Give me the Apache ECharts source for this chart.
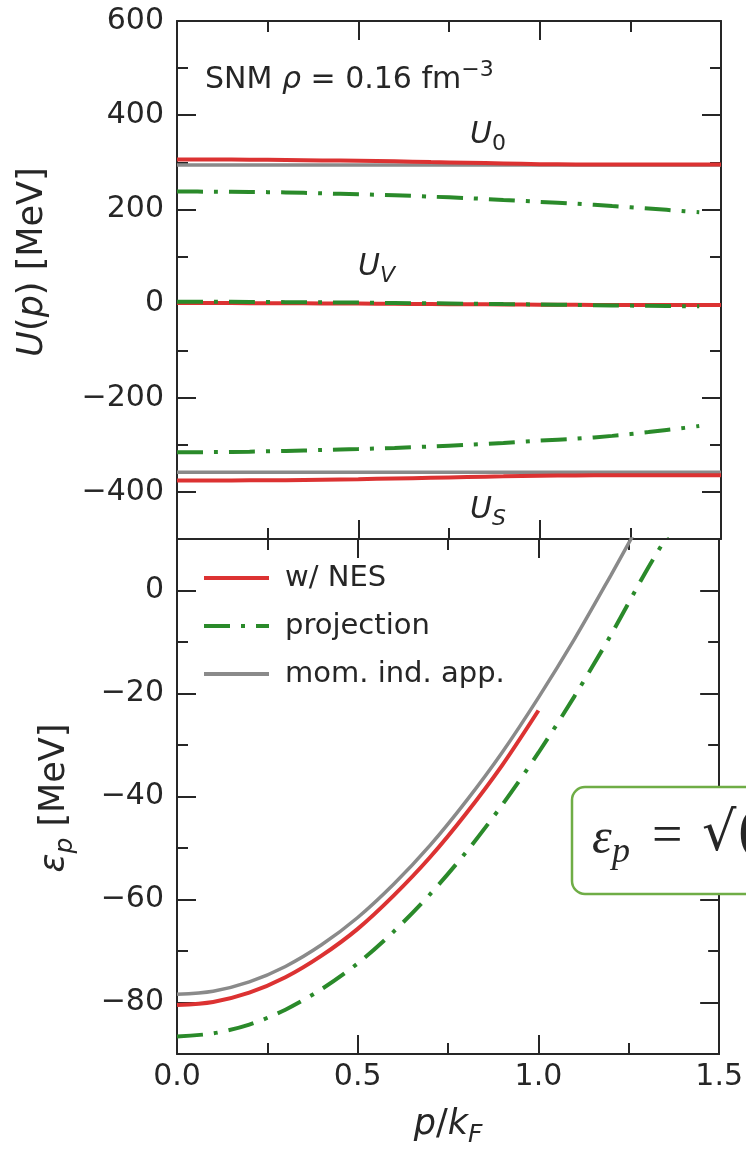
<!DOCTYPE html>
<html>
<head>
<meta charset="utf-8">
<script src="https://cdn.jsdelivr.net/npm/echarts@6/dist/echarts.min.js"></script>
<style>
  html, body { margin: 0; padding: 0; background: #ffffff; }
  #chart { width: 746px; height: 1150px; }
</style>
</head>
<body>
<div id="chart"></div>
<script>
// ---- momentum grids (p / k_F) ----
const pPot     = [0, 0.1, 0.2, 0.3, 0.4, 0.5, 0.6, 0.7, 0.8, 0.9, 1.0, 1.1, 1.2, 1.3, 1.4, 1.5];
const pPotProj = [0, 0.1, 0.2, 0.3, 0.4, 0.5, 0.6, 0.7, 0.8, 0.9, 1.0, 1.1, 1.2, 1.3, 1.4, 1.44];

// ---- single-particle potentials U(p) [MeV] ----
const u0Nes   = [306, 306, 305.5, 305, 304, 303, 302, 300.5, 299, 297.5, 296, 295.5, 295.5, 295.5, 295.5, 295.5];
const u0Proj  = [238, 237.5, 237, 236, 234, 232, 230, 227, 224, 220, 216, 212, 207, 202, 196, 194];
const u0Mom   = [294, 294, 294, 294, 294, 294, 294, 294, 294, 294, 294, 294, 294, 294, 294, 294];
const uvNes   = [1, 1, 0.8, 0.5, 0.3, 0, -0.5, -1, -1.5, -2, -2.5, -2.8, -3, -3, -3.2, -3.3];
const uvProj  = [4, 3.8, 3.5, 3, 2.5, 2, 1.2, 0.5, -0.3, -1.2, -2, -3, -4, -4.8, -5.6, -6];
const usNes   = [-376, -376, -375.5, -375, -374, -373, -371.5, -370, -368.5, -367, -365.5, -365, -364.5, -364.5, -364.5, -364.5];
const usProj  = [-316, -315.5, -314.5, -313, -311, -309, -306.5, -303.5, -300, -296, -291, -287, -281, -273, -264, -260];
const usMom   = [-358, -358, -358, -358, -358, -358, -358, -358, -358, -358, -358, -358, -358, -358, -358, -358];

// ---- single-particle energies eps_p [MeV] ----
const pEpsNes  = [0, 0.1, 0.2, 0.3, 0.4, 0.5, 0.6, 0.7, 0.8, 0.9, 1.0];
const epsNes   = [-80.5, -79.9, -78.1, -75.1, -70.9, -65.7, -59.2, -51.8, -43.3, -33.9, -23.3];
const pEpsProj = [0, 0.1, 0.2, 0.3, 0.4, 0.5, 0.6, 0.7, 0.8, 0.9, 1.0, 1.1, 1.2, 1.3, 1.36];
const epsProj  = [-86.6, -86.0, -84.3, -81.4, -77.4, -72.4, -66.2, -59.0, -50.8, -41.6, -31.5, -20.5, -8.7, 4.0, 11.0];
const pEpsMom  = [0, 0.1, 0.2, 0.3, 0.4, 0.5, 0.6, 0.7, 0.8, 0.9, 1.0, 1.1, 1.2, 1.26];
const epsMom   = [-78.4, -77.8, -76.0, -73.0, -68.8, -63.5, -57.0, -49.5, -40.9, -31.4, -20.8, -9.4, 2.9, 10.5];

// ---- tick layout ----
const xMajor    = [0, 0.5, 1.0, 1.5];
const uMajor    = [-400, -200, 0, 200, 400, 600];
const epsMajor  = [-80, -60, -40, -20, 0];

const NAMES = ['w/ NES', 'projection', 'mom. ind. app.'];
const RED = '#dc3232', GREEN = '#2a8a2a', GRAY = '#8a8a8a';
const INK = '#262626';
const FONT = 'DejaVu Sans';
const DASHDOT = [26, 11, 4, 11];

const minus = v => (v < 0 ? '\u2212' + Math.abs(v) : String(v));

// one panel side = a short-tick axis (minor steps) plus a long-tick axis (majors)
function sideAxes(kind, gridIndex, pos, min, max, step, majors, labelFn) {
  const common = { type: 'value', gridIndex, position: pos, min, max, splitLine: { show: false } };
  const minorAx = Object.assign({}, common, {
    interval: step,
    axisLine: { show: true, onZero: false, lineStyle: { color: INK, width: 2 } },
    axisTick: { show: true, inside: true, length: 11, lineStyle: { color: INK, width: 2 } },
    axisLabel: labelFn ? {
      show: true, formatter: labelFn, color: INK, fontFamily: FONT, fontSize: 30,
      margin: kind === 'x' ? 8 : 13, hideOverlap: false
    } : { show: false }
  });
  const majorAx = Object.assign({}, common, {
    interval: step,
    axisLine: { show: false, onZero: false },
    axisTick: { show: true, inside: true, length: 19, customValues: majors, lineStyle: { color: INK, width: 2 } },
    axisLabel: { show: false }
  });
  return [minorAx, majorAx];
}

const xLabel = v => (Math.abs(v * 2 - Math.round(v * 2)) < 1e-9 ? v.toFixed(1) : '');
const uLabel = v => (Math.abs(v % 200) < 1e-9 && v > -500 ? minus(v) : '');
const eLabel = v => (Math.abs(v % 20) < 1e-9 && v > -90 && v <= 0 ? minus(v) : '');

const xAxes = [
  ...sideAxes('x', 0, 'bottom', 0, 1.5, 0.25, xMajor, null),
  ...sideAxes('x', 0, 'top',    0, 1.5, 0.25, xMajor, null),
  ...sideAxes('x', 1, 'bottom', 0, 1.5, 0.25, xMajor, xLabel),
  ...sideAxes('x', 1, 'top',    0, 1.5, 0.25, xMajor, null)
];
const yAxes = [
  ...sideAxes('y', 0, 'left',  -500, 600, 100, uMajor, uLabel),
  ...sideAxes('y', 0, 'right', -500, 600, 100, uMajor, null),
  ...sideAxes('y', 1, 'left',  -90, 10, 10, epsMajor, eLabel),
  ...sideAxes('y', 1, 'right', -90, 10, 10, epsMajor, null)
];

function curve(name, xs, ys, panel, color, width, dash, z) {
  return {
    name, type: 'line',
    xAxisIndex: panel === 0 ? 0 : 4,
    yAxisIndex: panel === 0 ? 0 : 4,
    data: xs.map((x, i) => [x, ys[i]]),
    showSymbol: false, symbol: 'none', smooth: 0.3, clip: true,
    lineStyle: { color, width, type: dash || 'solid', cap: 'butt' },
    itemStyle: { color },
    z, silent: true, animation: false
  };
}

const series = [
  // potentials
  curve(NAMES[2], pPot, u0Mom, 0, GRAY, 3.5, null, 2),
  curve(NAMES[2], pPot, usMom, 0, GRAY, 3.5, null, 2),
  curve(NAMES[0], pPot, u0Nes, 0, RED, 4, null, 3),
  curve(NAMES[0], pPot, uvNes, 0, RED, 4, null, 3),
  curve(NAMES[0], pPot, usNes, 0, RED, 4, null, 3),
  curve(NAMES[1], pPotProj, u0Proj, 0, GREEN, 4, DASHDOT, 4),
  curve(NAMES[1], pPotProj, uvProj, 0, GREEN, 4, DASHDOT, 4),
  curve(NAMES[1], pPotProj, usProj, 0, GREEN, 4, DASHDOT, 4),
  // energies
  curve(NAMES[2], pEpsMom, epsMom, 1, GRAY, 3.5, null, 2),
  curve(NAMES[0], pEpsNes, epsNes, 1, RED, 4, null, 3),
  curve(NAMES[1], pEpsProj, epsProj, 1, GREEN, 4, DASHDOT, 4)
];

function richSet(size) {
  const s = Math.round(size * 0.72);
  return {
    n:   { fontFamily: FONT, fontSize: size, lineHeight: size + 11, fill: INK },
    i:   { fontFamily: FONT, fontSize: size, lineHeight: size + 11, fill: INK, fontStyle: 'italic' },
    sub: { fontFamily: FONT, fontSize: s, lineHeight: s, fill: INK, fontStyle: 'italic', verticalAlign: 'bottom' },
    subn:{ fontFamily: FONT, fontSize: s, lineHeight: s, fill: INK, verticalAlign: 'bottom' },
    sup: { fontFamily: FONT, fontSize: s, lineHeight: s, fill: INK, verticalAlign: 'top' }
  };
}

function label(text, x, y, size, align, rotation) {
  return {
    type: 'text', x, y, z: 50, rotation: rotation || 0,
    style: {
      text, rich: richSet(size), fill: INK, fontFamily: FONT, fontSize: size,
      textAlign: align, align: align, textVerticalAlign: 'middle', verticalAlign: 'middle'
    }
  };
}

const graphic = [
  label('{n|SNM }{i|ρ}{n| = 0.16 fm}{sup|\u22123}', 205, 80, 30, 'left'),
  label('{i|U}{subn|0}', 470, 135, 30, 'left'),
  label('{i|U}{sub|V}', 358, 267, 30, 'left'),
  label('{i|U}{sub|S}', 470, 510, 30, 'left'),
  // axis titles
  label('{i|U}{n|(}{i|p}{n|) [MeV]}', 33, 262, 35, 'center', Math.PI / 2),
  label('{i|ε}{sub|p}{n| [MeV]}', 55, 798, 35, 'center', Math.PI / 2),
  label('{i|p}{n|/}{i|k}{sub|F}', 448, 1125, 35, 'center'),
  // dispersion relation box
  { type: 'rect', z: 100, shape: { x: 572, y: 787, width: 230, height: 107, r: 13 },
    style: { fill: '#ffffff', stroke: '#6fad46', lineWidth: 2.5 } },
  { type: 'text', z: 101, x: 592, y: 840,
    style: { text: 'ε', font: 'italic 50px "Liberation Serif"', fill: INK, textVerticalAlign: 'middle', verticalAlign: 'middle' } },
  { type: 'text', z: 101, x: 612, y: 853,
    style: { text: 'p', font: 'italic 36px "Liberation Serif"', fill: INK, textVerticalAlign: 'middle', verticalAlign: 'middle' } },
  { type: 'text', z: 101, x: 652, y: 838,
    style: { text: '=', font: '54px "Liberation Serif"', fill: INK, textVerticalAlign: 'middle', verticalAlign: 'middle' } },
  { type: 'text', z: 101, x: 702, y: 836,
    style: { text: '√(', font: '54px "DejaVu Serif"', fill: INK, textVerticalAlign: 'middle', verticalAlign: 'middle' } }
];

const chart = echarts.init(document.getElementById('chart'), null, { renderer: 'canvas' });
chart.setOption({
  backgroundColor: '#ffffff',
  animation: false,
  grid: [
    { left: 177, right: 25, top: 21, height: 518, containLabel: false },
    { left: 177, right: 25, top: 539, height: 515, containLabel: false }
  ],
  xAxis: xAxes,
  yAxis: yAxes,
  legend: {
    data: NAMES.map(name => ({ name, itemStyle: { opacity: 0 } })),
    orient: 'vertical', left: 202, top: 561, padding: 0,
    itemWidth: 65, itemHeight: 14, itemGap: 14,
    lineStyle: { width: 4 },
    itemStyle: { opacity: 0 },
    textStyle: { color: INK, fontFamily: FONT, fontSize: 29, lineHeight: 34, padding: [0, 0, 0, 11] },
    selectedMode: false
  },
  series,
  graphic
});
</script>
</body>
</html>
